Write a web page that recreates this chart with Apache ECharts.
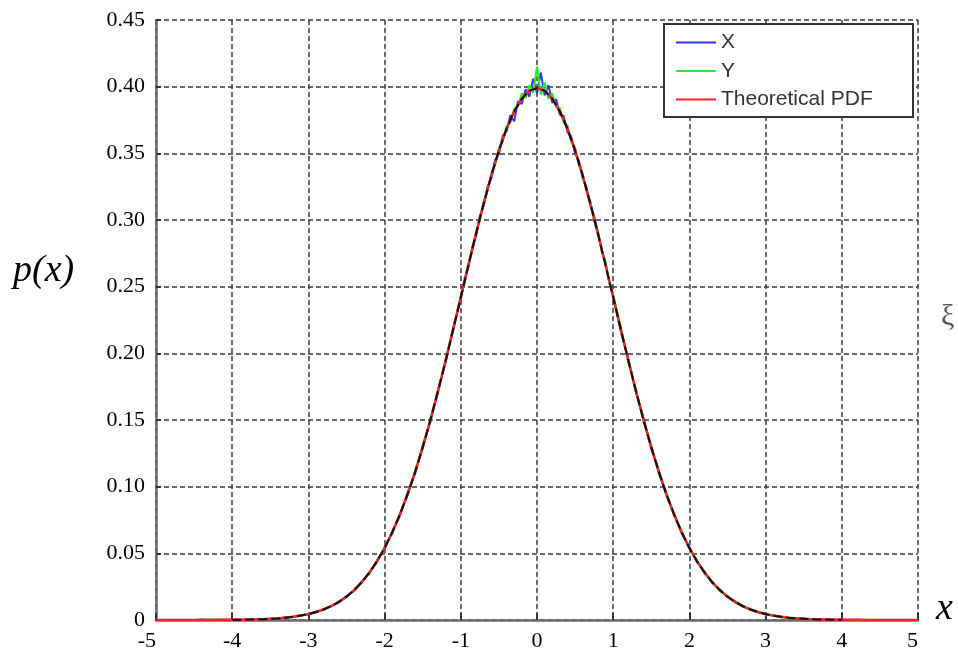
<!DOCTYPE html>
<html>
<head>
<meta charset="utf-8">
<title>p(x)</title>
<script src="https://cdn.jsdelivr.net/npm/echarts@6/dist/echarts.min.js"></script>
<style>
  html, body { margin: 0; padding: 0; background: #fff; }
  #chart { width: 958px; height: 657px; }
</style>
</head>
<body>
<div id="chart"></div>
<script>
// x positions of the theoretical curve, 0.1 steps
const pdfXs = [
  -5.0, -4.9, -4.8, -4.7, -4.6, -4.5, -4.4, -4.3, -4.2, -4.1,
  -4.0, -3.9, -3.8, -3.7, -3.6, -3.5, -3.4, -3.3, -3.2, -3.1,
  -3.0, -2.9, -2.8, -2.7, -2.6, -2.5, -2.4, -2.3, -2.2, -2.1,
  -2.0, -1.9, -1.8, -1.7, -1.6, -1.5, -1.4, -1.3, -1.2, -1.1,
  -1.0, -0.9, -0.8, -0.7, -0.6, -0.5, -0.4, -0.3, -0.2, -0.1,
  0.0, 0.1, 0.2, 0.3, 0.4, 0.5, 0.6, 0.7, 0.8, 0.9,
  1.0, 1.1, 1.2, 1.3, 1.4, 1.5, 1.6, 1.7, 1.8, 1.9,
  2.0, 2.1, 2.2, 2.3, 2.4, 2.5, 2.6, 2.7, 2.8, 2.9,
  3.0, 3.1, 3.2, 3.3, 3.4, 3.5, 3.6, 3.7, 3.8, 3.9,
  4.0, 4.1, 4.2, 4.3, 4.4, 4.5, 4.6, 4.7, 4.8, 4.9, 5.0
]

// theoretical curve (red)
const pdfVals = [
  0.0000, 0.0000, 0.0000, 0.0000, 0.0000, 0.0000, 0.0000, 0.0000, 0.0001, 0.0001,
  0.0001, 0.0002, 0.0003, 0.0004, 0.0006, 0.0009, 0.0012, 0.0017, 0.0024, 0.0033,
  0.0044, 0.0060, 0.0079, 0.0104, 0.0136, 0.0175, 0.0224, 0.0283, 0.0355, 0.0440,
  0.0540, 0.0656, 0.0790, 0.0940, 0.1109, 0.1295, 0.1497, 0.1714, 0.1942, 0.2179,
  0.2420, 0.2661, 0.2897, 0.3123, 0.3332, 0.3521, 0.3683, 0.3814, 0.3910, 0.3970,
  0.3989, 0.3970, 0.3910, 0.3814, 0.3683, 0.3521, 0.3332, 0.3123, 0.2897, 0.2661,
  0.2420, 0.2179, 0.1942, 0.1714, 0.1497, 0.1295, 0.1109, 0.0940, 0.0790, 0.0656,
  0.0540, 0.0440, 0.0355, 0.0283, 0.0224, 0.0175, 0.0136, 0.0104, 0.0079, 0.0060,
  0.0044, 0.0033, 0.0024, 0.0017, 0.0012, 0.0009, 0.0006, 0.0004, 0.0003, 0.0002,
  0.0001, 0.0001, 0.0001, 0.0000, 0.0000, 0.0000, 0.0000, 0.0000, 0.0000, 0.0000, 0.0000
]

// sample positions of the two histograms (finer near the peak)
const sampleXs = [
  -4.5, -4.4, -4.3, -4.2, -4.1, -4.0, -3.9, -3.8, -3.7, -3.6,
  -3.5, -3.4, -3.3, -3.2, -3.1, -3.0, -2.9, -2.8, -2.7, -2.6,
  -2.5, -2.4, -2.3, -2.2, -2.1, -2.0, -1.9, -1.8, -1.7, -1.6,
  -1.5, -1.4, -1.3, -1.2, -1.1,
  -1.00, -0.95, -0.90, -0.85, -0.80, -0.75, -0.70, -0.65, -0.60, -0.55,
  -0.50, -0.45, -0.40, -0.35, -0.30, -0.25, -0.20, -0.15, -0.10, -0.05,
  0.00, 0.05, 0.10, 0.15, 0.20, 0.25, 0.30, 0.35, 0.40, 0.45,
  0.50, 0.55, 0.60, 0.65, 0.70, 0.75, 0.80, 0.85, 0.90, 0.95, 1.00,
  1.1, 1.2, 1.3, 1.4, 1.5, 1.6, 1.7, 1.8, 1.9, 2.0,
  2.1, 2.2, 2.3, 2.4, 2.5, 2.6, 2.7, 2.8, 2.9, 3.0,
  3.1, 3.2, 3.3, 3.4, 3.5, 3.6, 3.7, 3.8, 3.9, 4.0,
  4.1, 4.2, 4.3, 4.4, 4.5
]

// X (blue)
const xVals = [
  0.0000, 0.0003, 0.0000, 0.0002, 0.0000, 0.0001, 0.0002, 0.0002, 0.0005, 0.0006,
  0.0010, 0.0011, 0.0020, 0.0022, 0.0035, 0.0042, 0.0063, 0.0076, 0.0108, 0.0131,
  0.0180, 0.0219, 0.0290, 0.0349, 0.0447, 0.0533, 0.0664, 0.0781, 0.0951, 0.1098,
  0.1306, 0.1486, 0.1727, 0.1930, 0.2195,
  0.2405, 0.2560, 0.2648, 0.2795, 0.2880, 0.3030, 0.3105, 0.3250, 0.3310, 0.3450,
  0.3495, 0.3630, 0.3665, 0.3785, 0.3740, 0.3890, 0.3870, 0.3980, 0.3925, 0.4060,
  0.3950, 0.4105, 0.3935, 0.4010, 0.3880, 0.3905, 0.3790, 0.3780, 0.3660, 0.3625,
  0.3500, 0.3445, 0.3315, 0.3245, 0.3110, 0.3025, 0.2910, 0.2770, 0.2675, 0.2530, 0.2430,
  0.2165, 0.1958, 0.1700, 0.1510, 0.1283, 0.1120, 0.0932, 0.0798, 0.0648, 0.0547,
  0.0434, 0.0361, 0.0278, 0.0229, 0.0171, 0.0140, 0.0100, 0.0082, 0.0057, 0.0046,
  0.0031, 0.0026, 0.0015, 0.0013, 0.0008, 0.0007, 0.0003, 0.0004, 0.0001, 0.0002,
  0.0000, 0.0001, 0.0000, 0.0000, 0.0000
]

// Y (green)
const yVals = [
  0.0002, 0.0000, 0.0003, 0.0000, 0.0001, 0.0000, 0.0003, 0.0002, 0.0004, 0.0007,
  0.0008, 0.0014, 0.0016, 0.0025, 0.0031, 0.0047, 0.0058, 0.0083, 0.0101, 0.0140,
  0.0172, 0.0230, 0.0277, 0.0362, 0.0433, 0.0548, 0.0650, 0.0798, 0.0931, 0.1120,
  0.1287, 0.1509, 0.1702, 0.1955, 0.2170,
  0.2436, 0.2525, 0.2680, 0.2765, 0.2915, 0.2995, 0.3140, 0.3215, 0.3350, 0.3415,
  0.3540, 0.3590, 0.3705, 0.3730, 0.3835, 0.3850, 0.3950, 0.3915, 0.4010, 0.3955,
  0.4150, 0.3940, 0.4030, 0.3910, 0.3950, 0.3845, 0.3840, 0.3730, 0.3710, 0.3585,
  0.3545, 0.3410, 0.3350, 0.3210, 0.3140, 0.2990, 0.2915, 0.2760, 0.2690, 0.2520, 0.2440,
  0.2200, 0.1925, 0.1731, 0.1485, 0.1310, 0.1095, 0.0955, 0.0779, 0.0667, 0.0531,
  0.0449, 0.0347, 0.0291, 0.0217, 0.0182, 0.0129, 0.0110, 0.0074, 0.0064, 0.0040,
  0.0036, 0.0021, 0.0019, 0.0010, 0.0011, 0.0004, 0.0006, 0.0001, 0.0003, 0.0000,
  0.0002, 0.0000, 0.0001, 0.0000, 0.0002
]

const legendNames = ['X', 'Y', 'Theoretical PDF']

const serif = '"Liberation Serif", "Times New Roman", serif'
const sans = '"Liberation Sans", Arial, sans-serif'

const pairs = (xs, ys) => xs.map((x, i) => [x, ys[i]])

const chart = echarts.init(document.getElementById('chart'), null, { renderer: 'canvas' })

const gridLine = { show: true, lineStyle: { color: '#3a3a3a', width: 1.5, type: [5, 3] } }

chart.setOption({
  animation: false,
  backgroundColor: '#fff',
  grid: { left: 156, right: 40, top: 20, bottom: 37 },
  xAxis: {
    type: 'value',
    min: -5,
    max: 5,
    interval: 1,
    axisLine: { show: true, onZero: false, lineStyle: { color: '#6a6a6a', width: 2.5 } },
    axisTick: { show: true, inside: true, length: 7, lineStyle: { color: '#333', width: 2 } },
    axisLabel: {
      color: '#000',
      fontFamily: serif,
      fontSize: 22,
      margin: 10,
      alignMinLabel: 'right',
      alignMaxLabel: 'right'
    },
    splitLine: gridLine
  },
  yAxis: {
    type: 'value',
    min: 0,
    max: 0.45,
    interval: 0.05,
    axisLine: { show: true, onZero: false, lineStyle: { color: '#6a6a6a', width: 2.5 } },
    axisTick: { show: true, inside: true, length: 5, lineStyle: { color: '#333', width: 2 } },
    axisLabel: {
      color: '#000',
      fontFamily: serif,
      fontSize: 22,
      margin: 11,
      formatter: v => (v === 0 ? '0' : v.toFixed(2))
    },
    splitLine: gridLine
  },
  legend: {
    orient: 'vertical',
    left: 664,
    top: 24,
    padding: [8, 10, 8, 12],
    icon: 'rect',
    itemWidth: 40,
    itemHeight: 2,
    itemGap: 7.5,
    itemTextGap: 16,
    z: 11,
    data: legendNames,
    textStyle: { color: '#333', fontFamily: sans, fontSize: 21 }
  },
  graphic: [
    {
      type: 'rect',
      z: 10,
      shape: { x: 664, y: 24, width: 249, height: 93 },
      style: { fill: '#fff', stroke: '#333', lineWidth: 2 }
    },
    {
      type: 'text',
      left: 13,
      top: 252,
      style: { text: 'p(x)', font: 'italic 38px ' + serif, fill: '#000' }
    },
    {
      type: 'text',
      left: 936,
      top: 590,
      style: { text: 'x', font: 'italic 38px ' + serif, fill: '#000' }
    },
    {
      type: 'text',
      left: 941,
      top: 302,
      style: { text: 'ξ', font: '30px ' + serif, fill: '#555' }
    }
  ],
  series: [
    {
      name: 'X',
      type: 'line',
      symbol: 'none',
      z: 2,
      data: pairs(sampleXs, xVals),
      lineStyle: { color: '#3333ff', width: 2 },
      itemStyle: { color: '#3333ff' }
    },
    {
      name: 'Y',
      type: 'line',
      symbol: 'none',
      z: 3,
      data: pairs(sampleXs, yVals),
      lineStyle: { color: '#22ee22', width: 2 },
      itemStyle: { color: '#22ee22' }
    },
    {
      name: 'Theoretical PDF',
      type: 'line',
      symbol: 'none',
      z: 4,
      data: pairs(pdfXs, pdfVals),
      lineStyle: { color: '#ff2222', width: 2.5 },
      itemStyle: { color: '#ff2222' }
    },
    {
      name: 'overlay',
      type: 'line',
      symbol: 'none',
      z: 5,
      silent: true,
      data: pairs(pdfXs, pdfVals).filter(p => Math.abs(p[0]) <= 4),
      lineStyle: { color: '#111', width: 2, type: [9, 4] }
    }
  ]
})
</script>
</body>
</html>
